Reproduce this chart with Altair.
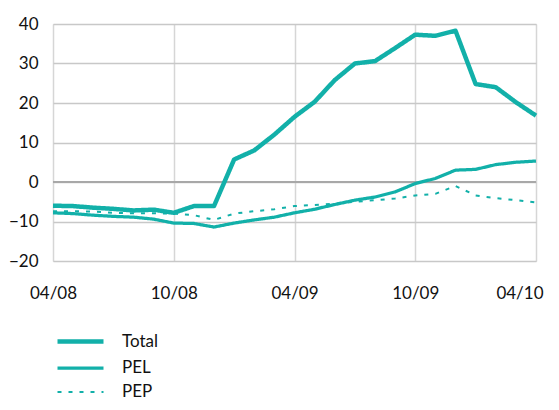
import altair as alt
import pandas as pd

months = list(range(25))
total = [-6.0, -6.1, -6.5, -6.8, -7.2, -7.0, -7.8, -6.1, -6.1, 5.7, 8.0, 12.0,
         16.5, 20.3, 25.8, 30.0, 30.6, 33.9, 37.3, 37.0, 38.3, 24.8, 24.0, 20.2, 16.8]
pel = [-7.8, -8.0, -8.4, -8.7, -8.9, -9.4, -10.4, -10.5, -11.4, -10.4, -9.6, -8.9,
       -7.8, -6.9, -5.7, -4.6, -3.8, -2.5, -0.4, 0.9, 3.0, 3.2, 4.4, 5.0, 5.3]
pep = [-7.4, -7.4, -7.5, -7.8, -7.9, -7.9, -8.0, -8.4, -9.6, -8.0, -7.4, -6.9,
       -6.1, -5.8, -5.5, -5.0, -4.6, -4.2, -3.4, -3.0, -1.0, -3.4, -4.1, -4.6, -5.2]
series_names = ["Total", "PEL", "PEP"]
tick_values = [0, 6, 12, 18, 24]
tick_labels = ["04/08", "10/08", "04/09", "10/09", "04/10"]
y_ticks = [-20, -10, 0, 10, 20, 30, 40]

rows = []
for name, vals in zip(series_names, [total, pel, pep]):
    for m, v in zip(months, vals):
        rows.append({"month": m, "value": v, "series": name})
df = pd.DataFrame(rows)

label_expr = " : ".join(
    f"datum.value == {v} ? '{l}'" for v, l in zip(tick_values, tick_labels)
) + " : ''"

teal = "#12b0a9"
FONT = "Lato"


def leg():
    return alt.Legend(title=None, orient="none", legendX=15, legendY=305,
                      symbolType="M-2.3,0H2.3", symbolSize=400,
                      labelOffset=29, labelFontSize=17, labelFont=FONT,
                      labelColor="#111", rowPadding=5)


y_scale = alt.Scale(domain=[-20, 40], nice=False)
y_axis = alt.Axis(values=y_ticks, title=None, grid=True, gridColor="#c8c8c8",
                  gridWidth=1.5, domain=False, ticks=False, labelPadding=15,
                  labelOverlap=False, labelFontSize=17, labelColor="#111", labelFont=FONT)

zero = alt.Chart(df).mark_rule(color="#a8a8a8", strokeWidth=2).encode(
    y=alt.Y(datum=0, scale=y_scale, axis=y_axis)
)

last_test = f"datum.value == {tick_values[-1]}"

lines = alt.Chart(df).mark_line(strokeJoin="round").encode(
    x=alt.X("month:Q", scale=alt.Scale(domain=[0, 24], nice=False),
            axis=alt.Axis(values=tick_values, labelExpr=label_expr, title=None,
                          grid=True, gridColor="#d6d6d6", gridWidth=1.5,
                          domain=False, ticks=False, labelPadding=24, labelOverlap=False,
                          labelFlush=False,
                          labelAlign={"condition": {"test": last_test, "value": "right"},
                                      "value": "center"},
                          labelOffset={"condition": {"test": last_test, "value": 7},
                                       "value": 0},
                          labelFontSize=17, labelColor="#111", labelFont=FONT)),
    y=alt.Y("value:Q", scale=y_scale, axis=y_axis),
    color=alt.Color("series:N", scale=alt.Scale(domain=series_names, range=[teal, teal, teal]),
                    legend=leg()),
    strokeWidth=alt.StrokeWidth("series:N", scale=alt.Scale(domain=series_names, range=[4.5, 2, 2.5]),
                                legend=leg()),
    strokeDash=alt.StrokeDash("series:N", scale=alt.Scale(domain=series_names, range=[[1, 0], [1, 0], [4, 7]]),
                              legend=leg()),
    order="month:Q",
)

chart = alt.layer(zero, lines).properties(
    width=483, height=237,
    autosize=alt.AutoSizeParams(type="none"),
    padding={"left": 45, "top": 16, "right": 8, "bottom": 140},
).configure_view(stroke="#b4b4b4", strokeWidth=2).configure(background="white")

chart.save("out.html", embed_options={"renderer": "svg", "actions": False})
